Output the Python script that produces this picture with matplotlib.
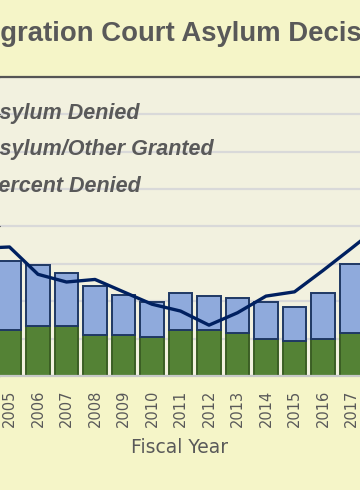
import matplotlib.pyplot as plt
import numpy as np

# Datos (por año fiscal)
years = [2005, 2006, 2007, 2008, 2009, 2010, 2011, 2012, 2013, 2014, 2015, 2016, 2017]
granted = [6130, 6670, 6670, 5470, 5470, 5240, 6130, 6130, 5770, 4930, 4670, 4930, 5770]
denied = [9240, 8130, 7160, 6530, 5330, 4670, 4970, 4570, 4670, 4970, 4570, 6170, 9250]

# la línea sigue un año a cada lado del recorte
line_years = [2004, 2005, 2006, 2007, 2008, 2009, 2010, 2011, 2012, 2013, 2014, 2015, 2016, 2017, 2018]
pct_denied = [59.9, 60.2, 53.8, 52.0, 52.6, 49.7, 46.8, 45.2, 41.9, 44.8, 48.7, 49.7, 54.7, 59.9, 65.2]

title = 'Immigration Court Asylum Decisions'
gris = '#595959'


def main():
	fig = plt.figure(figsize=(3.6, 4.9), dpi=100, facecolor='#F5F5C8')
	ax = fig.add_axes([0, 0.2327, 1, 0.6102])
	ax.set_facecolor('#F2F1DF')

	x = np.array(years) - years[0]
	b1 = ax.bar(x, granted, width=0.83, color='#548235', edgecolor='#3B5E24', linewidth=1.4,
		label='Asylum/Other Granted')
	b2 = ax.bar(x, denied, width=0.83, bottom=granted, color='#8FAADC', edgecolor='#1F3864',
		linewidth=1.4, label='Asylum Denied')

	ax.set_xlim(-0.333, 12.298)
	ax.set_ylim(0, 40000)
	ax.set_yticks(range(0, 40001, 5000))
	ax.yaxis.grid(True, color='#D9D9D9', linewidth=1.6)
	ax.set_axisbelow(True)
	ax.tick_params(axis='y', left=False, labelleft=False)
	ax.set_xticks(x)
	ax.set_xticklabels([str(a) for a in years], rotation=90, fontsize=10.5, color=gris)
	ax.tick_params(axis='x', length=0, pad=10)
	ax.set_xlabel('Fiscal Year', fontsize=13.5, color=gris, labelpad=8)

	for s in ['left', 'right']:
		ax.spines[s].set_visible(False)
	ax.spines['top'].set_color('#555555')
	ax.spines['top'].set_linewidth(1.6)
	ax.spines['bottom'].set_color('#C8C8C8')
	ax.spines['bottom'].set_linewidth(1.6)

	ax2 = ax.twinx()
	lx = np.array(line_years) - years[0]
	l1, = ax2.plot(lx, pct_denied, color='#002060', linewidth=2.4, solid_joinstyle='round',
		label='Percent Denied')
	ax2.set_ylim(30, 100)
	ax2.tick_params(axis='y', right=False, labelright=False)
	for s in ax2.spines.values():
		s.set_visible(False)

	ax2.legend(handles=[b2, b1, l1], loc='upper left', bbox_to_anchor=(-0.212, 0.7902),
		bbox_transform=fig.transFigure, frameon=False, borderpad=0, borderaxespad=0,
		handlelength=2, handletextpad=0.8, labelspacing=0.72, labelcolor=gris,
		prop=dict(family='Liberation Sans', weight='bold', style='italic', size=15.5))

	fig.text(-0.178, 0.9163, title, family='Liberation Sans', weight='bold', fontsize=19.8,
		color=gris, ha='left', va='baseline')

	fig.savefig('out.png', dpi=100, facecolor=fig.get_facecolor())


main()
